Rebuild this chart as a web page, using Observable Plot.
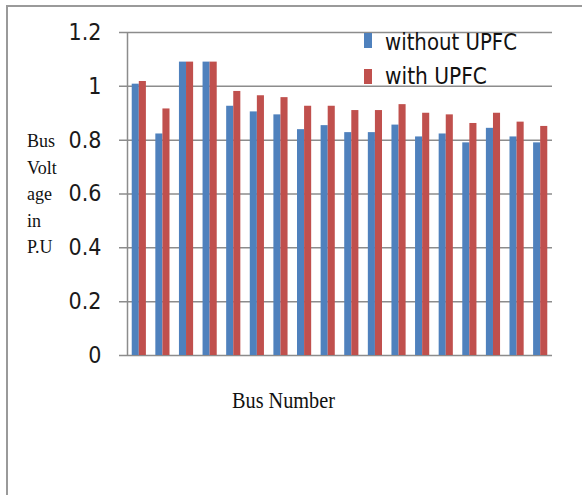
<!DOCTYPE html>
<html>
<head>
<meta charset="utf-8">
<script src="https://cdn.jsdelivr.net/npm/d3@7"></script>
<script src="https://cdn.jsdelivr.net/npm/@observablehq/plot@0.6"></script>
<style>
  html, body { margin: 0; padding: 0; background: #fff; }
  #wrap { position: relative; width: 582px; height: 495px; overflow: hidden; }
  #frame { position: absolute; left: 6px; top: 5px; right: -10px; bottom: -10px;
           border-left: 2px solid #9a9a9a; border-top: 2px solid #9a9a9a; }
  #chart { position: absolute; left: 0; top: 0; }
</style>
</head>
<body>
<div id="wrap">
  <div id="frame"></div>
  <div id="chart"></div>
</div>
<script>
// Bus voltages (p.u.) for the 18 buses, before and after adding the UPFC
const buses = d3.range(1, 19);
const withoutUPFC = [1.008, 0.823, 1.09, 1.09, 0.926, 0.905, 0.894, 0.839, 0.854,
                     0.828, 0.828, 0.856, 0.812, 0.823, 0.790, 0.844, 0.812, 0.790];
const withUPFC    = [1.018, 0.916, 1.09, 1.09, 0.981, 0.965, 0.958, 0.926, 0.926,
                     0.910, 0.910, 0.932, 0.900, 0.894, 0.862, 0.900, 0.867, 0.851];
const seriesNames = ["without UPFC", "with UPFC"];
const seriesColors = ["#4F81BD", "#C0504D"];
const yTicks = [0, 0.2, 0.4, 0.6, 0.8, 1, 1.2];
const yTitleLines = ["Bus", "Volt", "age", "in", "P.U"];
const xTitle = "Bus Number";

const rows = buses.flatMap((b, i) => [
  {bus: b, series: seriesNames[0], v: withoutUPFC[i]},
  {bus: b, series: seriesNames[1], v: withUPFC[i]}
]);

const W = 582, H = 495;
const mL = 127, mR = 30, mT = 32, mB = 140;
const step = (W - mL - mR) / buses.length;
const barW = step * 0.3;
const gap = (step - 2 * barW) / 2;
const gridColor = "#8c8c8c";
const sansNarrow = "'Liberation Sans Narrow', 'DejaVu Sans Condensed', 'Liberation Sans', sans-serif";
const serif = "'Liberation Serif', 'DejaVu Serif', serif";

const plot = Plot.plot({
  width: W, height: H,
  marginLeft: mL, marginRight: mR, marginTop: mT, marginBottom: mB,
  style: {background: "transparent", overflow: "visible"},
  x: {type: "band", domain: buses, padding: 0, round: false, axis: null},
  y: {domain: [0, 1.2], axis: null, label: null},
  color: {domain: seriesNames, range: seriesColors},
  marks: [
    // horizontal gridlines, each running out past the axis as a tick
    Plot.ruleY(yTicks, {stroke: gridColor, strokeWidth: 1.5, insetLeft: -8}),
    // vertical value axis line
    Plot.ruleX([buses[0]], {dx: -step / 2, y1: 0, y2: 1.2, stroke: gridColor, strokeWidth: 1.5}),
    Plot.axisY(yTicks, {
      label: null, tickSize: 0, tickPadding: 26, tickFormat: d => String(d),
      fontSize: 23, fontFamily: sansNarrow, fill: "#1a1a1a"
    }),
    Plot.barY(rows.filter(d => d.series === seriesNames[0]), {
      x: "bus", y: "v", fill: "series", insetLeft: gap, insetRight: gap + barW
    }),
    Plot.barY(rows.filter(d => d.series === seriesNames[1]), {
      x: "bus", y: "v", fill: "series", insetLeft: gap + barW, insetRight: gap
    })
  ]
});

document.getElementById("chart").appendChild(plot);
const svg = d3.select(plot);

// stacked value-axis title
const yt = svg.append("text")
  .attr("text-anchor", "start")
  .attr("font-family", serif).attr("font-size", 18).attr("fill", "#111");
yTitleLines.forEach((line, i) => {
  yt.append("tspan").attr("x", 27).attr("y", 147 + i * 26.5).text(line);
});

// category-axis title
svg.append("text")
  .attr("x", 232).attr("y", 408).attr("text-anchor", "start")
  .attr("font-family", serif).attr("font-size", 23).attr("fill", "#111")
  .attr("textLength", 103).attr("lengthAdjust", "spacingAndGlyphs")
  .text(xTitle);

// legend in the upper right of the plot area
const legend = svg.append("g").attr("text-anchor", "start");
const legendRows = [
  {name: seriesNames[0], color: seriesColors[0], top: 33, base: 50, len: 132},
  {name: seriesNames[1], color: seriesColors[1], top: 69, base: 84, len: 102}
];
legendRows.forEach(r => {
  legend.append("rect").attr("x", 364).attr("y", r.top).attr("width", 8).attr("height", 15)
    .attr("fill", r.color);
  legend.append("text").attr("x", 385).attr("y", r.base)
    .attr("font-family", sansNarrow).attr("font-size", 23).attr("fill", "#111")
    .attr("textLength", r.len).attr("lengthAdjust", "spacingAndGlyphs")
    .text(r.name);
});
</script>
</body>
</html>
